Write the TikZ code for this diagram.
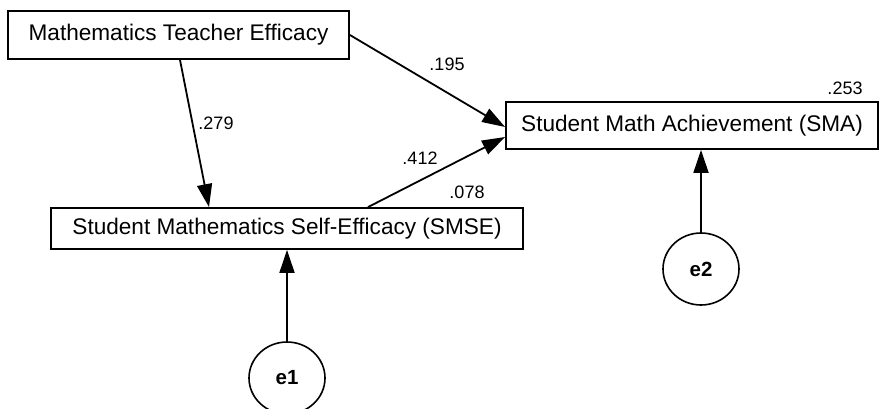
\documentclass[tikz,border=0pt]{standalone}
\usepackage{fontspec}
\setmainfont{Liberation Sans}
\usetikzlibrary{arrows.meta,shapes.geometric}
\begin{document}
\begin{tikzpicture}[x=1pt,y=-1pt,
  varbox/.style={draw,line width=1.8pt,rectangle,inner sep=0pt,font=\fontsize{22.6}{25}\selectfont},
  errnode/.style={draw,line width=1.6pt,ellipse,inner sep=0pt,minimum width=76pt,minimum height=72pt,font=\bfseries\fontsize{20.5}{22}\selectfont},
  path/.style={line width=1.8pt,-{Triangle[length=23pt,width=15pt]}},
  coef/.style={inner sep=0pt,font=\fontsize{18}{20}\selectfont}]
\useasboundingbox (0,0) rectangle (880,409);
% observed variables
\node[varbox,minimum width=341pt,minimum height=48pt] (mte) at (178.5,35) {Mathematics Teacher Efficacy};
\node[varbox,minimum width=472pt,minimum height=41pt] (smse) at (287,228.5) {Student Mathematics Self-Efficacy (SMSE)};
\node[varbox,minimum width=372pt,minimum height=47pt] (sma) at (692,125.5) {Student Math Achievement (SMA)};
% error terms
\node[errnode] (e1) at (287,378) {e1};
\node[errnode] (e2) at (701,269) {e2};
% paths
\draw[path] ([xshift=1.5pt]mte.south) -- ([xshift=-78pt]smse.north);
\draw[path] (mte.east) -- ([yshift=-1.5pt]sma.west);
\draw[path] ([xshift=81pt]smse.north) -- ([yshift=-11.5pt]sma.west);
\draw[path] (e1.north) -- (smse.south);
\draw[path] (e2.north) -- (e2.north |- sma.south);
% coefficients
\node[coef] (c279) at (216,123) {.279};
\node[coef] (c195) at (447,64) {.195};
\node[coef] (c412) at (420,158) {.412};
\node[coef] (c078) at (467,192) {.078};
\node[coef] (c253) at (845,88) {.253};
\end{tikzpicture}
\end{document}
